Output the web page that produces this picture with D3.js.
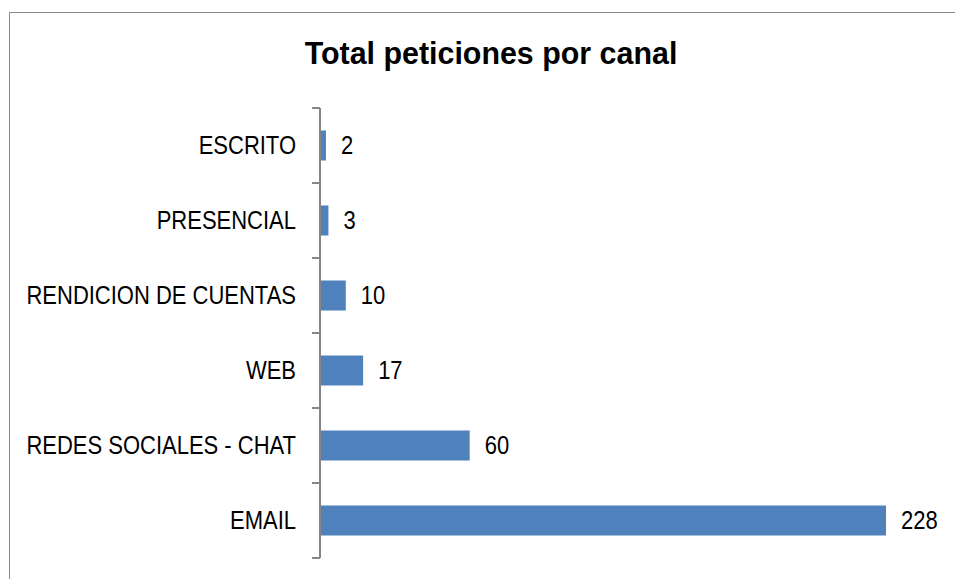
<!DOCTYPE html>
<html>
<head>
<meta charset="utf-8">
<script src="https://cdn.jsdelivr.net/npm/d3@7"></script>
<style>
  body { margin: 0; background: #fff; }
</style>
</head>
<body>
<div id="chart"></div>
<script>
const categories = ["ESCRITO", "PRESENCIAL", "RENDICION DE CUENTAS", "WEB", "REDES SOCIALES - CHAT", "EMAIL"];
const values = [2, 3, 10, 17, 60, 228];

const width = 955, height = 579;
const fontFam = "'Liberation Sans Narrow', 'Arial Narrow', 'Liberation Sans', Arial, sans-serif";
const squeeze = 0.88; // narrow look of the original font

const svg = d3.select("#chart")
    .append("svg")
    .attr("width", width)
    .attr("height", height);

// outer frame
svg.append("rect")
    .attr("x", 9.5)
    .attr("y", 12.5)
    .attr("width", 1000)
    .attr("height", 1000)
    .attr("fill", "none")
    .attr("stroke", "#8c8c8c")
    .attr("stroke-width", 1);

const x = d3.scaleLinear()
    .domain([0, 228])
    .range([321, 886]);

const y = d3.scaleBand()
    .domain(categories)
    .range([108, 558])
    .paddingInner(0.6)
    .paddingOuter(0.3);

// title
svg.append("text")
    .text("Total peticiones por canal")
    .attr("transform", `translate(491, 64) scale(0.95, 1)`)
    .style("font-family", fontFam)
    .style("font-size", "32px")
    .style("font-weight", 700)
    .style("text-anchor", "middle");

// bars
svg.selectAll(".bar")
    .data(values)
    .enter()
    .append("rect")
    .attr("class", "bar")
    .attr("x", x(0))
    .attr("y", (d, i) => y(categories[i]))
    .attr("width", d => x(d) - x(0))
    .attr("height", y.bandwidth())
    .attr("fill", "#4f81bd");

// axis line and ticks at band boundaries
const axisX = 320;
const boundaries = d3.range(categories.length + 1).map(i => y.range()[0] + i * y.step());
const axisG = svg.append("g");
axisG.append("line")
    .attr("x1", axisX).attr("x2", axisX)
    .attr("y1", y.range()[0]).attr("y2", y.range()[1])
    .attr("stroke", "#868686")
    .attr("stroke-width", 2);
axisG.selectAll(".tick")
    .data(boundaries)
    .enter()
    .append("line")
    .attr("x1", axisX - 8).attr("x2", axisX)
    .attr("y1", d => d).attr("y2", d => d)
    .attr("stroke", "#868686")
    .attr("stroke-width", 2);

// category labels
svg.selectAll(".cat")
    .data(categories)
    .enter()
    .append("text")
    .attr("class", "cat")
    .attr("transform", d => `translate(296, ${y(d) + y.bandwidth() / 2}) scale(${squeeze}, 1)`)
    .attr("dy", "0.32em")
    .style("font-family", fontFam)
    .style("font-size", "25px")
    .style("text-anchor", "end")
    .text(d => d);

// value labels
svg.selectAll(".val")
    .data(values)
    .enter()
    .append("text")
    .attr("class", "val")
    .attr("transform", (d, i) => `translate(${x(d) + 15}, ${y(categories[i]) + y.bandwidth() / 2}) scale(${squeeze}, 1)`)
    .attr("dy", "0.32em")
    .style("font-family", fontFam)
    .style("font-size", "25px")
    .text(d => d);
</script>
</body>
</html>
